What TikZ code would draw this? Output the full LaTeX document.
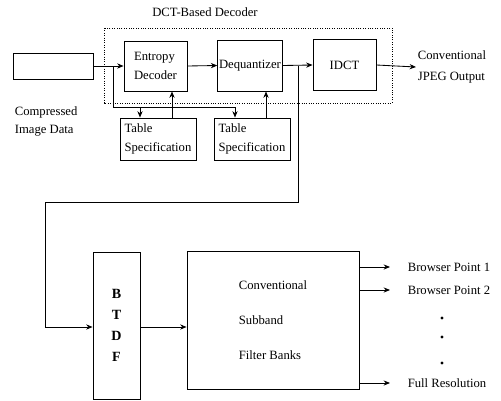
\documentclass[tikz,border=0pt]{standalone}
\usepackage{fontspec}
\setmainfont{Liberation Serif}
\usetikzlibrary{arrows.meta,positioning,calc}

\begin{document}
\begin{tikzpicture}[
  x=0.025cm, y=-0.025cm,
  font=\fontsize{9}{13}\selectfont,
  line width=0.6pt,
  arr/.style={-{Stealth[length=1.6mm,width=1.3mm]}},
  blk/.style={draw, inner sep=1pt, align=left},
  lbl/.style={inner sep=1pt, align=left, anchor=west},
]
\useasboundingbox (0,0) rectangle (501,401);
% DCT-based decoder
\draw[line width=0.7pt, dash pattern=on 0.7pt off 1pt] (104,28) rectangle (392,103);
\node (dctT) at (205,12) {DCT-Based Decoder};
\node[blk, minimum width=2cm, minimum height=0.65cm] (inp) at (53,66) {};
\node[lbl, font=\fontsize{9}{13}\selectfont] (inpT) at (13,121.5) {Compressed\\Image Data};
\node[blk, minimum width=1.575cm, minimum height=1.25cm] (ent) at (155.5,66) {Entropy\\Decoder};
\node[blk, minimum width=1.6cm, minimum height=1.275cm] (deq) at (250,65.5) {Dequantizer};
\node[blk, minimum width=1.575cm, minimum height=1.275cm] (idct) at (344.5,65) {IDCT};
\node[lbl, font=\fontsize{9}{15}\selectfont] (jpeg) at (416,67) {Conventional\\JPEG Output};
\node[blk, minimum width=1.9cm, minimum height=1.05cm] (tab1) at (158,139) {Table\\Specification};
\node[blk, minimum width=1.9cm, minimum height=1.05cm] (tab2) at (252,139) {Table\\Specification};
\coordinate (jin) at (113,66);
\coordinate (jtab) at (113,107);
\coordinate (jdq) at (298,65.5);
\coordinate (t1in) at ([xshift=-0.45cm]tab1.north);
\coordinate (t2in) at ([xshift=-0.425cm]tab2.north);
\coordinate (t1out) at ([xshift=0.35cm]tab1.north);
\coordinate (t2out) at ([xshift=0.35cm]tab2.north);
\draw[arr] (inp.east) -- (ent.west);
\draw[arr] (ent.east) -- (deq.west);
\draw[arr] (deq.east) -- (idct.west);
\draw[arr] (idct.east) -- (jpeg.west);
\draw[arr] (jin) -- (jtab) -| (t2in);
\draw[arr] (jtab -| t1in) -- (t1in);
\draw[arr] (t1out) -- (t1out |- ent.south);
\draw[arr] (t2out) -- (t2out |- deq.south);
% subband browsing
\node[blk, align=center, font=\bfseries\fontsize{10}{15}\selectfont, minimum width=1.175cm, minimum height=3.675cm] (btdf) at (116.5,325.5) {B\\T\\D\\F};
\node[blk, font=\fontsize{9}{25}\selectfont, minimum width=4.3cm, minimum height=3.45cm] (sub) at (273,320) {Conventional\\Subband\\Filter Banks};
\coordinate (jl) at (45,202);
\coordinate (jb) at (45,327);
\draw[arr] (jdq) |- (jl) -- (jb) -- (btdf.west |- jb);
\draw[arr] (btdf.east |- jb) -- (sub.west |- jb);
\node[lbl] (bp1) at (406,267) {Browser Point 1};
\node[lbl] (bp2) at (406,290) {Browser Point 2};
\node[lbl] (full) at (406,383) {Full Resolution};
\foreach \t in {bp1,bp2,full}
  \draw[arr, shorten >=0.4cm] (sub.east |- \t) -- (\t.west);
\foreach \y in {318,337,363}
  \fill (442,\y) circle (0.04cm);
\end{tikzpicture}
\end{document}
